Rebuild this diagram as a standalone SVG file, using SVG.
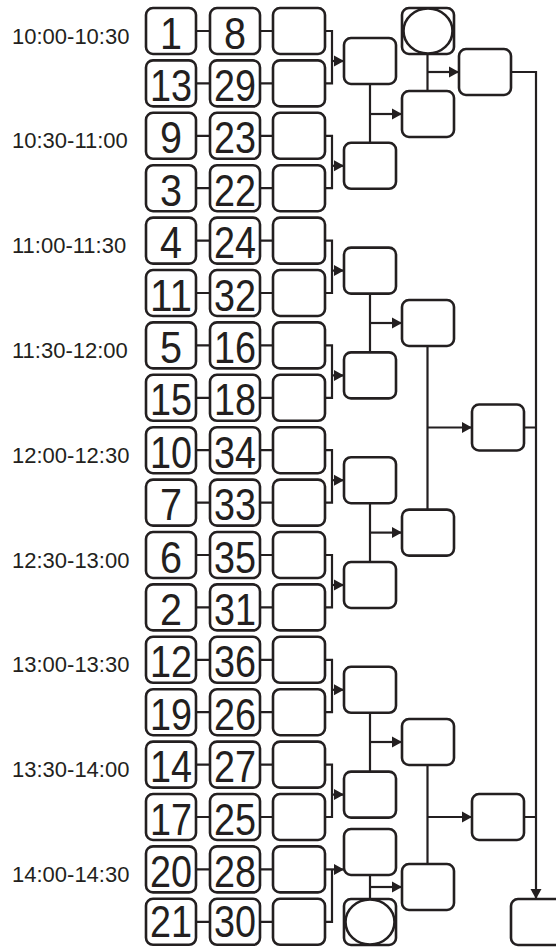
<svg xmlns="http://www.w3.org/2000/svg" width="556" height="947" viewBox="0 0 556 947">
<style>
.b{fill:#fff;stroke:#231f20;stroke-width:2.6}
.l{fill:none;stroke:#231f20;stroke-width:2.2}
.a{fill:none;stroke:#231f20;stroke-width:2.2;marker-end:url(#ah)}
.t{font-family:"Liberation Sans",Arial,sans-serif;font-size:22px;fill:#231f20}
.n{font-family:"Liberation Sans",Arial,sans-serif;font-size:45px;fill:#231f20;text-anchor:middle}
</style>
<defs>
<marker id="ah" markerUnits="userSpaceOnUse" markerWidth="11" markerHeight="12" refX="10" refY="6" orient="auto"><path d="M0,0.5 L10,6 L0,11.5 Z" fill="#231f20"/></marker>
<rect id="bx" width="50" height="46" rx="7" class="b"/>
<rect id="bw" width="52" height="46" rx="7" class="b"/>
</defs>
<g id="labels">
<text class="t" x="12" y="43.5">10:00-10:30</text>
<text class="t" x="12" y="148.3">10:30-11:00</text>
<text class="t" x="12" y="253.1">11:00-11:30</text>
<text class="t" x="12" y="357.9">11:30-12:00</text>
<text class="t" x="12" y="462.7">12:00-12:30</text>
<text class="t" x="12" y="567.5">12:30-13:00</text>
<text class="t" x="12" y="672.3">13:00-13:30</text>
<text class="t" x="12" y="777.1">13:30-14:00</text>
<text class="t" x="12" y="881.9">14:00-14:30</text>
</g>
<g id="connectors">
<path class="l" d="M196,31H210M260,31H273M196,83.4H210M260,83.4H273M196,135.8H210M260,135.8H273M196,188.2H210M260,188.2H273M196,240.6H210M260,240.6H273M196,293H210M260,293H273M196,345.4H210M260,345.4H273M196,397.8H210M260,397.8H273M196,450.2H210M260,450.2H273M196,502.6H210M260,502.6H273M196,555H210M260,555H273M196,607.4H210M260,607.4H273M196,659.8H210M260,659.8H273M196,712.2H210M260,712.2H273M196,764.6H210M260,764.6H273M196,817H210M260,817H273M196,869.4H210M260,869.4H273M196,921.8H210M260,921.8H273"/>
<path class="l" d="M325,31H332V83.4H325M325,135.8H332V188.2H325M325,240.6H332V293H325M325,345.4H332V397.8H325M325,450.2H332V502.6H325M325,555H332V607.4H325M325,659.8H332V712.2H325M325,764.6H332V817H325M332,869.4V921.8H325"/>
<path class="a" d="M332,61H344"/>
<path class="a" d="M332,165.8H344"/>
<path class="a" d="M332,270.6H344"/>
<path class="a" d="M332,375.4H344"/>
<path class="a" d="M332,480.2H344"/>
<path class="a" d="M332,585H344"/>
<path class="a" d="M332,689.8H344"/>
<path class="a" d="M332,794.6H344"/>
<path class="a" d="M325,869.4H344"/>
<path class="l" d="M370,84V142.8M370,293.6V352.4M370,503.2V562M370,712.8V771.6M370,875V899"/>
<path class="a" d="M370,114H402"/>
<path class="a" d="M370,323H402"/>
<path class="a" d="M370,532.6H402"/>
<path class="a" d="M370,742H402"/>
<path class="a" d="M370,887H402"/>
<path class="l" d="M427.5,54V91M427.5,346V509.6M427.5,765V864"/>
<path class="a" d="M427.5,72H459"/>
<path class="a" d="M427.5,427.5H472"/>
<path class="a" d="M427.5,817H472"/>
<path class="l" d="M524,427.5H536M524,817H536"/>
<path class="a" d="M511,72H536V899"/>
</g>
<g id="c1r0"><use href="#bx" x="146" y="8"/><text class="n" x="171" y="48.5" textLength="22" lengthAdjust="spacingAndGlyphs">1</text></g>
<g id="c1r1"><use href="#bx" x="146" y="60.4"/><text class="n" x="171" y="100.9" textLength="42" lengthAdjust="spacingAndGlyphs">13</text></g>
<g id="c1r2"><use href="#bx" x="146" y="112.8"/><text class="n" x="171" y="153.3" textLength="22" lengthAdjust="spacingAndGlyphs">9</text></g>
<g id="c1r3"><use href="#bx" x="146" y="165.2"/><text class="n" x="171" y="205.7" textLength="22" lengthAdjust="spacingAndGlyphs">3</text></g>
<g id="c1r4"><use href="#bx" x="146" y="217.6"/><text class="n" x="171" y="258.1" textLength="22" lengthAdjust="spacingAndGlyphs">4</text></g>
<g id="c1r5"><use href="#bx" x="146" y="270"/><text class="n" x="171" y="310.5" textLength="42" lengthAdjust="spacingAndGlyphs">11</text></g>
<g id="c1r6"><use href="#bx" x="146" y="322.4"/><text class="n" x="171" y="362.9" textLength="22" lengthAdjust="spacingAndGlyphs">5</text></g>
<g id="c1r7"><use href="#bx" x="146" y="374.8"/><text class="n" x="171" y="415.3" textLength="42" lengthAdjust="spacingAndGlyphs">15</text></g>
<g id="c1r8"><use href="#bx" x="146" y="427.2"/><text class="n" x="171" y="467.7" textLength="42" lengthAdjust="spacingAndGlyphs">10</text></g>
<g id="c1r9"><use href="#bx" x="146" y="479.6"/><text class="n" x="171" y="520.1" textLength="22" lengthAdjust="spacingAndGlyphs">7</text></g>
<g id="c1r10"><use href="#bx" x="146" y="532"/><text class="n" x="171" y="572.5" textLength="22" lengthAdjust="spacingAndGlyphs">6</text></g>
<g id="c1r11"><use href="#bx" x="146" y="584.4"/><text class="n" x="171" y="624.9" textLength="22" lengthAdjust="spacingAndGlyphs">2</text></g>
<g id="c1r12"><use href="#bx" x="146" y="636.8"/><text class="n" x="171" y="677.3" textLength="42" lengthAdjust="spacingAndGlyphs">12</text></g>
<g id="c1r13"><use href="#bx" x="146" y="689.2"/><text class="n" x="171" y="729.7" textLength="42" lengthAdjust="spacingAndGlyphs">19</text></g>
<g id="c1r14"><use href="#bx" x="146" y="741.6"/><text class="n" x="171" y="782.1" textLength="42" lengthAdjust="spacingAndGlyphs">14</text></g>
<g id="c1r15"><use href="#bx" x="146" y="794"/><text class="n" x="171" y="834.5" textLength="42" lengthAdjust="spacingAndGlyphs">17</text></g>
<g id="c1r16"><use href="#bx" x="146" y="846.4"/><text class="n" x="171" y="886.9" textLength="42" lengthAdjust="spacingAndGlyphs">20</text></g>
<g id="c1r17"><use href="#bx" x="146" y="898.8"/><text class="n" x="171" y="937" textLength="42" lengthAdjust="spacingAndGlyphs">21</text></g>
<g id="c2r0"><use href="#bx" x="210" y="8"/><text class="n" x="235" y="48.5" textLength="22" lengthAdjust="spacingAndGlyphs">8</text></g>
<g id="c2r1"><use href="#bx" x="210" y="60.4"/><text class="n" x="235" y="100.9" textLength="42" lengthAdjust="spacingAndGlyphs">29</text></g>
<g id="c2r2"><use href="#bx" x="210" y="112.8"/><text class="n" x="235" y="153.3" textLength="42" lengthAdjust="spacingAndGlyphs">23</text></g>
<g id="c2r3"><use href="#bx" x="210" y="165.2"/><text class="n" x="235" y="205.7" textLength="42" lengthAdjust="spacingAndGlyphs">22</text></g>
<g id="c2r4"><use href="#bx" x="210" y="217.6"/><text class="n" x="235" y="258.1" textLength="42" lengthAdjust="spacingAndGlyphs">24</text></g>
<g id="c2r5"><use href="#bx" x="210" y="270"/><text class="n" x="235" y="310.5" textLength="42" lengthAdjust="spacingAndGlyphs">32</text></g>
<g id="c2r6"><use href="#bx" x="210" y="322.4"/><text class="n" x="235" y="362.9" textLength="42" lengthAdjust="spacingAndGlyphs">16</text></g>
<g id="c2r7"><use href="#bx" x="210" y="374.8"/><text class="n" x="235" y="415.3" textLength="42" lengthAdjust="spacingAndGlyphs">18</text></g>
<g id="c2r8"><use href="#bx" x="210" y="427.2"/><text class="n" x="235" y="467.7" textLength="42" lengthAdjust="spacingAndGlyphs">34</text></g>
<g id="c2r9"><use href="#bx" x="210" y="479.6"/><text class="n" x="235" y="520.1" textLength="42" lengthAdjust="spacingAndGlyphs">33</text></g>
<g id="c2r10"><use href="#bx" x="210" y="532"/><text class="n" x="235" y="572.5" textLength="42" lengthAdjust="spacingAndGlyphs">35</text></g>
<g id="c2r11"><use href="#bx" x="210" y="584.4"/><text class="n" x="235" y="624.9" textLength="42" lengthAdjust="spacingAndGlyphs">31</text></g>
<g id="c2r12"><use href="#bx" x="210" y="636.8"/><text class="n" x="235" y="677.3" textLength="42" lengthAdjust="spacingAndGlyphs">36</text></g>
<g id="c2r13"><use href="#bx" x="210" y="689.2"/><text class="n" x="235" y="729.7" textLength="42" lengthAdjust="spacingAndGlyphs">26</text></g>
<g id="c2r14"><use href="#bx" x="210" y="741.6"/><text class="n" x="235" y="782.1" textLength="42" lengthAdjust="spacingAndGlyphs">27</text></g>
<g id="c2r15"><use href="#bx" x="210" y="794"/><text class="n" x="235" y="834.5" textLength="42" lengthAdjust="spacingAndGlyphs">25</text></g>
<g id="c2r16"><use href="#bx" x="210" y="846.4"/><text class="n" x="235" y="886.9" textLength="42" lengthAdjust="spacingAndGlyphs">28</text></g>
<g id="c2r17"><use href="#bx" x="210" y="898.8"/><text class="n" x="235" y="937" textLength="42" lengthAdjust="spacingAndGlyphs">30</text></g>
<g id="c3r0"><use href="#bw" x="273" y="8"/></g>
<g id="c3r1"><use href="#bw" x="273" y="60.4"/></g>
<g id="c3r2"><use href="#bw" x="273" y="112.8"/></g>
<g id="c3r3"><use href="#bw" x="273" y="165.2"/></g>
<g id="c3r4"><use href="#bw" x="273" y="217.6"/></g>
<g id="c3r5"><use href="#bw" x="273" y="270"/></g>
<g id="c3r6"><use href="#bw" x="273" y="322.4"/></g>
<g id="c3r7"><use href="#bw" x="273" y="374.8"/></g>
<g id="c3r8"><use href="#bw" x="273" y="427.2"/></g>
<g id="c3r9"><use href="#bw" x="273" y="479.6"/></g>
<g id="c3r10"><use href="#bw" x="273" y="532"/></g>
<g id="c3r11"><use href="#bw" x="273" y="584.4"/></g>
<g id="c3r12"><use href="#bw" x="273" y="636.8"/></g>
<g id="c3r13"><use href="#bw" x="273" y="689.2"/></g>
<g id="c3r14"><use href="#bw" x="273" y="741.6"/></g>
<g id="c3r15"><use href="#bw" x="273" y="794"/></g>
<g id="c3r16"><use href="#bw" x="273" y="846.4"/></g>
<g id="c3r17"><use href="#bw" x="273" y="898.8"/></g>
<g id="p0"><use href="#bw" x="344" y="38"/></g>
<g id="p1"><use href="#bw" x="344" y="142.8"/></g>
<g id="p2"><use href="#bw" x="344" y="247.6"/></g>
<g id="p3"><use href="#bw" x="344" y="352.4"/></g>
<g id="p4"><use href="#bw" x="344" y="457.2"/></g>
<g id="p5"><use href="#bw" x="344" y="562"/></g>
<g id="p6"><use href="#bw" x="344" y="666.8"/></g>
<g id="p7"><use href="#bw" x="344" y="771.6"/></g>
<g id="p8"><use href="#bw" x="344" y="829"/></g>
<g id="circleBottom"><use href="#bw" x="344" y="899"/><ellipse cx="370" cy="922" rx="24.5" ry="22.5" class="b"/></g>
<g id="circleTop"><use href="#bw" x="402" y="8"/><ellipse cx="428" cy="31" rx="24.5" ry="22.5" class="b"/></g>
<g id="q0"><use href="#bw" x="402" y="91"/></g>
<g id="q1"><use href="#bw" x="402" y="300"/></g>
<g id="q2"><use href="#bw" x="402" y="509.6"/></g>
<g id="q3"><use href="#bw" x="402" y="719"/></g>
<g id="q4"><use href="#bw" x="402" y="864"/></g>
<g id="t0"><use href="#bw" x="459" y="49"/></g>
<g id="r0"><use href="#bw" x="472" y="404.5"/></g>
<g id="r1"><use href="#bw" x="472" y="794"/></g>
<g id="final"><use href="#bw" x="511" y="899"/></g>
</svg>
